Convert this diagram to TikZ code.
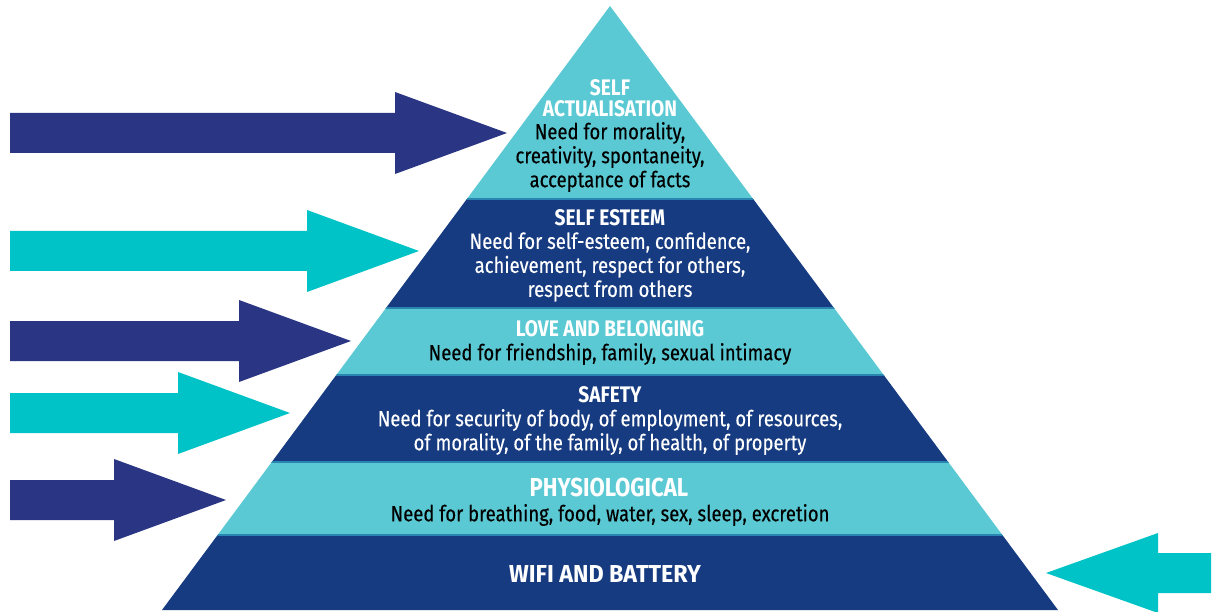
\documentclass[tikz,border=0pt]{standalone}
\usepackage{fontspec}
\setmainfont{Fira Sans}[FakeStretch=0.84, FakeBold=0.3]
\newfontfamily\headfont{Fira Sans}[FakeStretch=0.85]
\newfontfamily\wififont{Fira Sans}[FakeStretch=0.95]
\usetikzlibrary{positioning}
\definecolor{bandlight}{HTML}{5BC9D3}
\definecolor{banddark}{HTML}{163B80}
\definecolor{arrowdark}{HTML}{2A3583}
\definecolor{arrowcyan}{HTML}{00C3C7}
\definecolor{bandline}{HTML}{2A86B0}
\tikzset{
  level/.style = {align=center, inner sep=0pt},
  head/.style = {level, font=\headfont\bfseries\fontsize{22.5}{21}\selectfont, text=white},
  bighead/.style = {level, font=\headfont\bfseries\fontsize{26}{24}\selectfont, text=white},
  wifihead/.style = {level, font=\wififont\bfseries\fontsize{24.5}{24}\selectfont, text=white},
  needlight/.style = {level, font=\fontsize{22}{24}\selectfont, text=black},
  needdark/.style = {level, font=\fontsize{22}{24}\selectfont, text=white},
}

\begin{document}
\begin{tikzpicture}[x=1pt, y=-1pt]
  \useasboundingbox (0,0) rectangle (1215,612);

  % pyramid bands
  \begin{scope}
    \clip (610,6) -- (1058,610) -- (162,610) -- cycle;
    \foreach \ytop/\ybot/\col in {0/199/bandlight, 199/308/banddark, 308/375/bandlight,
                                  375/462/banddark, 462/535/bandlight, 535/612/banddark}
      \fill [\col] (150,\ytop) rectangle (1070,\ybot);
    \foreach \yline in {199, 308, 375, 462, 535}
      \draw [bandline, line width=1.2pt] (150,\yline) -- (1070,\yline);
  \end{scope}

  % arrows from the left
  \foreach \tip/\yy/\col in {507/133/arrowdark, 419/251/arrowcyan, 351/341/arrowdark,
                            290/413/arrowcyan, 226/500/arrowdark}
    \fill [\col] (10,\yy-20) -- (\tip-112,\yy-20) -- (\tip-112,\yy-41) -- (\tip,\yy)
                 -- (\tip-112,\yy+41) -- (\tip-112,\yy+20) -- (10,\yy+20) -- cycle;

  % arrow from the right
  \fill [arrowcyan] (1211,553) -- (1158,553) -- (1158,533) -- (1046,573)
                    -- (1158,613) -- (1158,593) -- (1211,593) -- cycle;

  % labels
  \node (selfact) [head] at (610,98) {SELF\\ACTUALISATION};
  \node (selfactneed) [needlight] at (610,157) {Need for morality,\\creativity, spontaneity,\\acceptance of facts};
  \node (esteem) [head] at (610,218) {SELF ESTEEM};
  \node (esteemneed) [needdark] at (610,267) {Need for self-esteem, confidence,\\achievement, respect for others,\\respect from others};
  \node (love) [head] at (610,329) {LOVE AND BELONGING};
  \node (loveneed) [needlight] at (610,354) {Need for friendship, family, sexual intimacy};
  \node (safety) [head] at (610,395) {SAFETY};
  \node (safetyneed) [needdark] at (610,432) {Need for security of body, of employment, of resources,\\of morality, of the family, of health, of property};
  \node (physio) [bighead] at (609,487) {PHYSIOLOGICAL};
  \node (physioneed) [needlight] at (610,515) {Need for breathing, food, water, sex, sleep, excretion};
  \node (wifi) [wifihead] at (605,574) {WIFI AND BATTERY};
\end{tikzpicture}
\end{document}
